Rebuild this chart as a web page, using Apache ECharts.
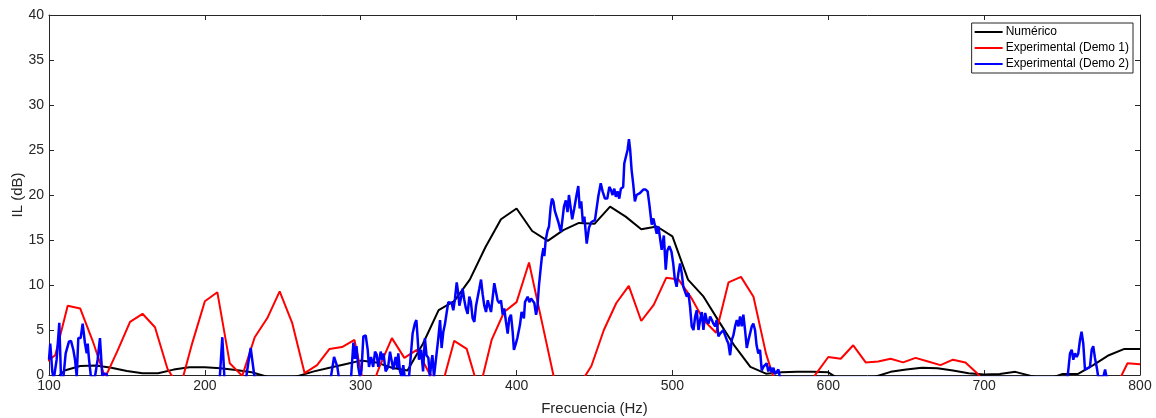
<!DOCTYPE html>
<html>
<head>
<meta charset="utf-8">
<script src="https://cdn.jsdelivr.net/npm/echarts@6/dist/echarts.min.js"></script>
<style>
html,body{margin:0;padding:0;background:#fff;}
#chart{width:1156px;height:418px;}
</style>
</head>
<body>
<div id="chart"></div>
<script>
// ---- Data ----
const xTicks = [100, 200, 300, 400, 500, 600, 700, 800];
const yTicks = [0, 5, 10, 15, 20, 25, 30, 35, 40];
const seriesNames = ['Numérico', 'Experimental (Demo 1)', 'Experimental (Demo 2)'];

const numFreq = [100,110,120,130,140,150,160,170,180,190,200,210,220,230,240,250,260,270,280,290,300,310,320,330,340,350,360,370,380,390,400,410,420,430,440,450,460,470,480,490,500,510,520,530,540,550,560,570,580,590,600,610,620,630,640,650,660,670,680,690,700,710,720,730,740,750,760,770,780,790,800];
const numIL = [-1.2,0.5,1.0,1.05,0.8,0.45,0.2,0.2,0.6,0.85,0.85,0.75,0.55,0.3,-0.2,-0.6,-0.1,0.4,0.8,1.2,1.6,1.4,0.8,0.5,3.5,7.2,8.2,10.6,14.2,17.3,18.5,16.0,14.9,16.1,16.9,16.8,18.7,17.6,16.2,16.5,15.4,10.6,8.7,5.9,3.2,0.9,0.15,0.3,0.35,0.35,0.3,-0.8,-0.8,-0.2,0.35,0.6,0.8,0.75,0.5,0.2,0.05,0.1,0.35,-0.1,-0.5,0.1,0.1,1.1,2.2,2.9,2.9];

const demo1Freq = [96,104,112,120,128,136,144,152,160,168,176,184,192,200,208,216,224,232,240,248,256,264,272,280,288,296,304,312,320,328,336,344,352,360,368,376,384,392,400,408,416,424,432,440,448,456,464,472,480,488,496,504,512,520,528,536,544,552,560,568,576,584,592,600,608,616,624,632,640,648,656,664,672,680,688,696,704,712,720,728,736,744,752,760,768,776,784,792,800];
const demo1IL = [1.2,2.2,7.7,7.4,3.8,-0.3,2.7,5.9,6.8,5.3,0.7,-1.5,3.6,8.2,9.2,1.3,-0.1,4.2,6.3,9.3,5.8,0.2,1.1,2.9,3.1,3.9,-2.8,0.9,4.1,1.9,2.8,0.2,-1.3,3.8,2.9,-1.8,3.9,7.0,8.1,12.5,6.1,-0.3,-3.0,-1.2,1.0,5.0,8.0,9.9,6.0,7.8,10.8,10.6,8.6,6.1,4.7,10.3,10.9,8.7,2.4,-2.0,-3.0,-1.8,0.1,2.0,1.8,3.3,1.4,1.5,1.8,1.4,1.9,1.5,1.1,1.7,1.4,0.1,-2.0,-3.0,-3.0,-3.0,-3.0,-3.0,-3.0,-3.0,-3.0,-3.0,-1.5,1.3,1.2];

const demo2Freq = [100,100.8,102.1,103,104.9,106.6,107.7,109.2,110.7,112.8,114.1,115.6,116.7,117.8,118.8,120.3,121.6,123.1,124.2,124.8,125.7,126.9,129.5,131.2,132.7,134.2,135.5,137,138,
 208,209.5,211.2,212.6,226.5,228,229.4,230.3,231.9,
 280.8,282.9,284,285,286,293.8,295.3,296.3,297.3,298.4,299.5,300.5,301.7,303.2,304.5,305.3,306.6,308,309.2,310.2,311.3,312.8,313.8,314.6,316,317.6,318.8,319.9,320.9,322.4,323.5,324.1,325.2,326.3,327.3,328.2,331,332.3,333.3,334.7,335.7,336.4,337.4,338.8,340,341.2,342.2,343.4,344.4,345.5,346,347,347.8,
 349.8,350.9,351.9,353,354,355.2,356.2,357.3,358.3,359.4,360.5,361.6,362.6,363.3,364.3,365.4,366.4,367.5,368.6,369.7,370.7,371.8,372.9,374,375,376.1,377.2,378.3,379.3,380.4,381.5,382.5,383.6,384.6,385.7,386.8,387.8,388.9,390,391.1,392.1,393.2,394.3,395.3,396.4,397.5,398.3,399.2,400.5,401.3,402.2,403.2,403.9,404.7,405.4,406.5,407.1,408.2,409.3,410.3,411.4,412.5,413.3,414.4,415.5,416.3,417.2,417.8,418.7,419.8,420.8,421.9,422.7,423.6,424.6,425.7,426.8,427.8,
 428.5,430.4,431.6,432.7,433.6,434.6,435.7,437,438.5,439.6,440.5,441.5,442.5,443.5,445,446.5,448,450.3,452.4,454,455.2,456.7,458.2,459.5,460.5,461.6,462.7,463.7,464.8,465.9,466.9,468.4,469.1,470.1,471.2,472.1,472.9,473.8,474.8,475.9,477,478,479.1,480.2,481.3,482.8,484.1,485.1,486.7,487.8,488.8,489.9,491,493.1,494.5,495.7,496.7,498,499.4,500.5,501.5,502.7,503.8,504.9,506,507,508.1,509.2,510.3,511.3,512.4,513.5,514.6,515.6,516.7,517.8,518.8,519.9,521,522,523.1,524.2,525.3,526.3,527.4,528.4,529.5,530.6,531.7,532.7,533.8,534.9,535.9,537,538.1,539.1,540.2,541.3,542.4,543.4,544.5,545.5,546.6,547.7,548.8,549.8,550.9,551.9,553,554,555.1,556.2,557.3,558.3,559.4,560.5,561.5,562.6,563.7,564.8,565.8,567,568,569,
 753.5,755.1,756.2,757.2,758.3,759.4,760.4,761.5,762.5,763.6,764.7,765.7,767.9,769,770,771.1,772.2,773.2,776.5,777.6,778.6,800];
const demo2IL = [1.7,3.5,0.4,-0.5,1.7,5.8,-0.3,-0.3,2.4,3.7,3.8,2.8,1.7,-0.2,4.1,4.1,5.7,3.5,2.4,3.5,1.7,-0.2,-0.2,1.7,4.1,-0.1,0.15,0.1,-1,
 -1,-0.5,4.2,-0.5,-0.3,1.5,3.0,2.8,-0.3,
 -0.3,2.0,2.2,0.9,-0.3,-0.3,3.6,1.8,3.2,0.9,-0.2,0.5,4.3,4.4,2.8,0.9,2.0,0.9,2.6,2.3,0.9,2.6,1.7,2.4,0.4,0.9,2.6,2.8,0.6,2.0,0.8,2.4,0.4,-0.2,1.1,-0.2,-0.2,2.5,4.6,5.7,6.1,4.4,1.7,2.8,0.4,4.1,2.2,1.9,-0.2,1.7,2.2,-0.2,-0.2,
 4.1,6.1,3.0,4.8,5.6,7.0,8.1,7.9,8.0,7.2,8.5,10.3,9.0,7.7,8.5,9.6,8.4,7.4,6.8,8.7,8.1,6.3,5.9,7.7,7.6,9.6,10.6,8.9,7.7,7.0,8.3,8.1,7.0,8.5,10.2,10.4,8.3,8.0,8.3,6.7,7.4,5.9,4.6,6.3,6.7,4.8,2.8,3.3,4.1,3.9,5.6,7.0,6.7,6.3,8.1,8.3,8.7,8.1,8.5,8.3,8.0,6.7,7.4,10.0,11.9,13.2,14.1,13.2,15.0,16.0,16.5,18.7,19.6,19.3,18.2,18.3,17.0,16.3,
 15.9,18.7,19.4,18.1,20.0,19.8,17.3,18.5,20.0,21.0,18.5,19.3,17.0,17.6,14.6,16.4,17.0,17.2,19.8,21.3,20.4,19.6,19.6,20.9,20.6,20.0,20.7,19.8,20.4,19.6,20.7,20.9,23.5,23.7,25.0,26.2,25.0,22.8,21.3,19.3,20.0,19.8,20.2,20.0,20.6,20.6,20.4,19.1,16.7,17.4,17.3,15.7,16.5,13.9,15.5,11.7,13.8,14.3,13.7,12.4,10.7,9.8,11.3,12.4,11.3,9.8,10.0,8.7,9.1,7.6,5.4,5.0,6.5,7.2,5.0,6.1,7.0,5.0,6.9,6.1,5.7,6.5,6.1,5.7,5.4,6.1,4.3,4.6,4.4,5.0,4.4,3.9,3.5,2.2,3.9,4.4,5.4,6.1,5.4,6.5,5.4,6.7,5.0,3.0,3.9,4.6,5.4,5.7,5.0,3.3,2.4,2.8,0.5,0.9,1.1,1.3,0.4,0.9,0.3,0.8,0.1,0.2,0.6,-0.3,
 -0.3,2.4,2.8,1.7,2.4,2.0,2.4,3.9,4.8,3.5,0.6,0.7,0.9,2.8,3.2,1.9,0.9,-0.2,-0.2,0.6,-0.3,-1];

// ---- Chart ----
const pairs = (xs, ys) => xs.map((x, i) => [x, ys[i]]);
const axisColor = '#262626';
const font = 'Liberation Sans, Arial, Helvetica, sans-serif';

const chart = echarts.init(document.getElementById('chart'), null, {renderer: 'canvas'});
const baseX = {
  type: 'value', min: xTicks[0], max: xTicks[xTicks.length - 1], interval: 100,
  axisLine: {show: true, onZero: false, lineStyle: {color: axisColor, width: 1}},
  axisTick: {show: true, inside: true, length: 5, lineStyle: {color: axisColor, width: 1}},
  splitLine: {show: false}
};
const baseY = {
  type: 'value', min: yTicks[0], max: yTicks[yTicks.length - 1], interval: 5,
  axisLine: {show: true, onZero: false, lineStyle: {color: axisColor, width: 1}},
  axisTick: {show: true, inside: true, length: 5, lineStyle: {color: axisColor, width: 1}},
  splitLine: {show: false}
};
chart.setOption({
  animation: false,
  backgroundColor: '#ffffff',
  grid: {left: 49, right: 16, top: 15, bottom: 43, containLabel: false, outerBoundsMode: 'none'},
  legend: {
    show: true,
    data: seriesNames,
    orient: 'vertical',
    right: 23, top: 23,
    icon: 'rect',
    itemWidth: 28, itemHeight: 2, itemGap: 4,
    padding: [3, 4, 3, 3],
    backgroundColor: '#ffffff',
    borderColor: axisColor, borderWidth: 1,
    textStyle: {color: '#000', fontSize: 12, fontFamily: font, padding: [0, 0, 0, -2]}
  },
  xAxis: [
    Object.assign({}, baseX, {
      position: 'bottom',
      name: 'Frecuencia (Hz)', nameLocation: 'middle', nameGap: 26, nameMoveOverlap: false,
      nameTextStyle: {color: axisColor, fontSize: 15, fontFamily: font},
      axisLabel: {color: axisColor, fontSize: 14, fontFamily: font, margin: 4,
        formatter: v => xTicks.includes(v) ? String(v) : ''}
    }),
    Object.assign({}, baseX, {position: 'top', axisLabel: {show: false}})
  ],
  yAxis: [
    Object.assign({}, baseY, {
      position: 'left',
      name: 'IL (dB)', nameLocation: 'middle', nameGap: 24, nameRotate: 90, nameMoveOverlap: false,
      nameTextStyle: {color: axisColor, fontSize: 15, fontFamily: font},
      axisLabel: {color: axisColor, fontSize: 14, fontFamily: font, margin: 5,
        formatter: v => yTicks.includes(v) ? String(v) : ''}
    }),
    Object.assign({}, baseY, {position: 'right', axisLabel: {show: false}})
  ],
  series: [
    {name: seriesNames[0], type: 'line', data: pairs(numFreq, numIL), showSymbol: false, symbol: 'none',
     clip: true, color: '#000000', lineStyle: {color: '#000000', width: 2}, z: 2},
    {name: seriesNames[1], type: 'line', data: pairs(demo1Freq, demo1IL), showSymbol: false, symbol: 'none',
     clip: true, color: '#ff0000', lineStyle: {color: '#ff0000', width: 2}, z: 3},
    {name: seriesNames[2], type: 'line', data: pairs(demo2Freq, demo2IL), showSymbol: false, symbol: 'none',
     clip: true, color: '#0000ff', lineStyle: {color: '#0000ff', width: 2.5}, z: 4}
  ]
});
</script>
</body>
</html>
